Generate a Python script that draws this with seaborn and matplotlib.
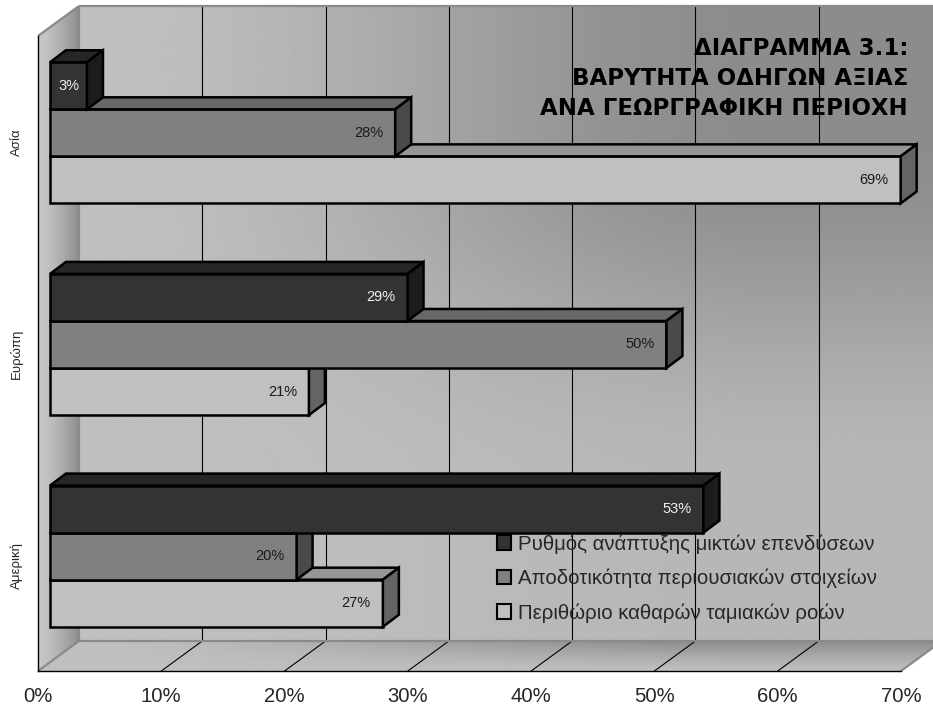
import numpy as np
import pandas as pd
import matplotlib
matplotlib.use("Agg")
import matplotlib.pyplot as plt
import seaborn as sns
from matplotlib.patches import Polygon, Patch

# ---- data -------------------------------------------------------------
regions = ["Ασία", "Ευρώπη", "Αμερική"]
series = [
    "Ρυθμός ανάπτυξης μικτών επενδύσεων",
    "Αποδοτικότητα περιουσιακών στοιχείων",
    "Περιθώριο καθαρών ταμιακών ροών",
]
growth_rate = [0.03, 0.29, 0.53]
asset_return = [0.28, 0.50, 0.20]
cash_flow_margin = [0.69, 0.21, 0.27]
x_ticks = [0.0, 0.1, 0.2, 0.3, 0.4, 0.5, 0.6, 0.7]
x_tick_labels = ["0%", "10%", "20%", "30%", "40%", "50%", "60%", "70%"]
title_lines = ["ΔΙΑΓΡΑΜΜΑ 3.1:", "ΒΑΡΥΤΗΤΑ ΟΔΗΓΩΝ ΑΞΙΑΣ", "ΑΝΑ ΓΕΩΡΓΡΑΦΙΚΗ ΠΕΡΙΟΧΗ"]

df = pd.DataFrame({
    "region": regions * 3,
    "series": [s for s in series for _ in regions],
    "value": growth_rate + asset_return + cash_flow_margin,
})

# front / top / side shades of each series
front_colors = ["#333333", "#808080", "#c0c0c0"]
top_colors = ["#262626", "#686868", "#969696"]
side_colors = ["#1c1c1c", "#4a4a4a", "#646464"]
label_colors = ["#f0f0f0", "#1a1a1a", "#1a1a1a"]

# ---- figure ----------------------------------------------------------
W, H, DPI = 933, 711, 100
sns.set_style("white")
plt.rcParams["font.family"] = ["Liberation Sans", "DejaVu Sans"]

fig = plt.figure(figsize=(W / DPI, H / DPI), dpi=DPI)
fig.patch.set_facecolor("white")

# background canvas in pixel units (y pointing down) for the 3D box
bg = fig.add_axes([0, 0, 1, 1], zorder=0)
bg.set_xlim(0, W)
bg.set_ylim(H, 0)
bg.axis("off")

# front plane of the plot box
left, top, right, bottom = 38, 36, 901, 671
ax = fig.add_axes([left / W, (H - bottom) / H, (right - left) / W, (bottom - top) / H], zorder=1)
ax.patch.set_alpha(0)

sns.barplot(
    data=df, x="value", y="region", hue="series", orient="h",
    hue_order=series, order=regions, palette=front_colors, saturation=1,
    width=0.667, edgecolor="black", linewidth=1.8, legend=False, ax=ax,
)
ax.set_xlim(0, 0.7)
ax.set_ylim(2.5, -0.5)
ax.set_xlabel("")
ax.set_ylabel("")

# ---- box geometry ----------------------------------------------------
def to_bg(x, y):
    return bg.transData.inverted().transform(ax.transData.transform((x, y)))

fx0, fy_top = to_bg(0, -0.5)
fx1, fy_bot = to_bg(0.7, 2.5)
DX, DY = 41, -30           # wall depth in pixels
bx0, bx1 = fx0 + DX, fx1 + DX
by_top, by_bot = fy_top + DY, fy_bot + DY


def smooth(u):
    u = np.clip(u, 0, 1)
    return u * u * (3 - 2 * u)


# back wall: light on the left, darkening toward the upper right
nx, ny = 400, 300
gx, gy = np.meshgrid(np.linspace(0, 1, nx), np.linspace(0, 1, ny))
shade = smooth(gx / 0.8) * (1 - 0.82 * smooth((gy - 0.2) / 0.55))
wall = 192 - 52 * shade
bg.imshow(wall, cmap="gray", vmin=0, vmax=255, extent=(bx0, bx1, by_bot, by_top),
          origin="upper", aspect="auto", interpolation="bilinear", zorder=0)

# left side wall
lx = np.linspace(0, 1, 60)
side = np.tile(200 - 58 * lx ** 1.4, (50, 1))
im = bg.imshow(side, cmap="gray", vmin=0, vmax=255, extent=(fx0, bx0, fy_bot, by_top),
               origin="upper", aspect="auto", interpolation="bilinear", zorder=0.5)
im.set_clip_path(Polygon([(fx0, fy_top), (bx0, by_top), (bx0, by_bot), (fx0, fy_bot)],
                         closed=True, transform=bg.transData))

# floor
gx, gy = np.meshgrid(np.linspace(0, 1, nx), np.linspace(0, 1, 40))
floor = 192 - 52 * smooth(gx / 0.8) * (1 - gy) ** 1.2
im = bg.imshow(floor, cmap="gray", vmin=0, vmax=255, extent=(fx0, bx1, fy_bot, by_bot),
               origin="upper", aspect="auto", interpolation="bilinear", zorder=0.5)
im.set_clip_path(Polygon([(fx0, fy_bot), (fx1, fy_bot), (bx1, by_bot), (bx0, by_bot)],
                         closed=True, transform=bg.transData))

# grid lines on the back wall and across the floor
for t in x_ticks[1:-1]:
    gx0, _ = to_bg(t, 2.5)
    bg.plot([gx0 + DX, gx0 + DX], [by_bot, by_top], color="black", lw=0.8, zorder=1)
    bg.plot([gx0, gx0 + DX], [fy_bot, by_bot], color="black", lw=0.8, zorder=1)

# box edges
edge = dict(color="#8a8a8a", lw=1.6, zorder=1.2, solid_capstyle="butt")
bg.plot([bx0, bx1 + 5], [by_top, by_top], **edge)
bg.plot([fx0, bx0], [fy_top, by_top], **edge)
bg.plot([bx0, bx0], [by_top, by_bot], **edge)
bg.plot([bx0, bx1 + 5], [by_bot, by_bot], **edge)
bg.plot([fx0, bx0], [fy_bot, by_bot], **edge)
bg.plot([fx1, bx1], [fy_bot, by_bot], **edge)
bg.set_xlim(0, W)
bg.set_ylim(H, 0)

# ---- 3D bars ---------------------------------------------------------
ux = 0.7 / (fx1 - fx0)      # data units per pixel
uy = 3.0 / (fy_bot - fy_top)
shift_x, shift_y = 12 * ux, 9 * uy
depth_x, depth_y = 16 * ux, 12 * uy
values = [growth_rate, asset_return, cash_flow_margin]

for i, cont in enumerate(ax.containers):
    z = 3 + (len(series) - i) * 0.1      # upper bars overlap the ones below
    for j, rect in enumerate(cont.patches):
        rect.set_x(rect.get_x() + shift_x)
        rect.set_y(rect.get_y() - shift_y)
        rect.set_zorder(z)
        rect.set_joinstyle("miter")
        x0 = rect.get_x()
        x1 = x0 + rect.get_width()
        yt = rect.get_y()
        yb = yt + rect.get_height()
        topf = Polygon([(x0, yt), (x1, yt), (x1 + depth_x, yt - depth_y), (x0 + depth_x, yt - depth_y)],
                       closed=True, facecolor=top_colors[i], edgecolor="black", lw=1.8,
                       joinstyle="miter", zorder=z, clip_on=False)
        sidef = Polygon([(x1, yt), (x1 + depth_x, yt - depth_y), (x1 + depth_x, yb - depth_y), (x1, yb)],
                        closed=True, facecolor=side_colors[i], edgecolor="black", lw=1.8,
                        joinstyle="miter", zorder=z, clip_on=False)
        ax.add_patch(topf)
        ax.add_patch(sidef)

        v = values[i][j]
        txt = f"{round(v * 100)}%"
        yc = (yt + yb) / 2
        if rect.get_width() / ux < 60:
            ax.text((x0 + x1) / 2, yc, txt, ha="center", va="center", fontsize=10.5,
                    color=label_colors[i], zorder=6)
        else:
            ax.text(x1 - 12 * ux, yc, txt, ha="right", va="center", fontsize=10.5,
                    color=label_colors[i], zorder=6)

# ---- axes ------------------------------------------------------------
for s in ["top", "right"]:
    ax.spines[s].set_visible(False)
for s in ["left", "bottom"]:
    ax.spines[s].set_color("black")
    ax.spines[s].set_linewidth(1.0)
    ax.spines[s].set_zorder(2)

ax.set_xticks(x_ticks, labels=x_tick_labels)
ax.tick_params(axis="x", which="major", direction="out", length=6, width=0.8,
               color="black", labelsize=14.6, pad=5.5)
ax.set_yticks([-0.5, 0.5, 1.5, 2.5])
ax.set_yticks([0, 1, 2], labels=regions, minor=True)
ax.tick_params(axis="y", which="major", direction="out", length=6, width=0.8,
               color="black", labelleft=False)
ax.tick_params(axis="y", which="minor", length=0, pad=11, labelsize=9.5)
for lab in ax.get_yticklabels(minor=True):
    lab.set_rotation(90)
    lab.set_va("center")

# ---- title and legend ------------------------------------------------
fig.text(908 / W, 1 - 37 / H, "\n".join(title_lines), ha="right", va="top",
         fontsize=16.5, fontweight="bold", family=["DejaVu Sans"], linespacing=1.4,
         multialignment="right", color="black", zorder=10)

handles = [Patch(facecolor=c, edgecolor="black", linewidth=1.5) for c in front_colors]
fig.legend(handles, series, loc="upper left", bbox_to_anchor=(497 / W, 1 - 534 / H),
           frameon=False, fontsize=14.7, handlelength=0.7, handleheight=0.7,
           handletextpad=0.35, labelspacing=0.74, borderpad=0, borderaxespad=0)

fig.savefig("out.png", dpi=DPI, facecolor="white")
